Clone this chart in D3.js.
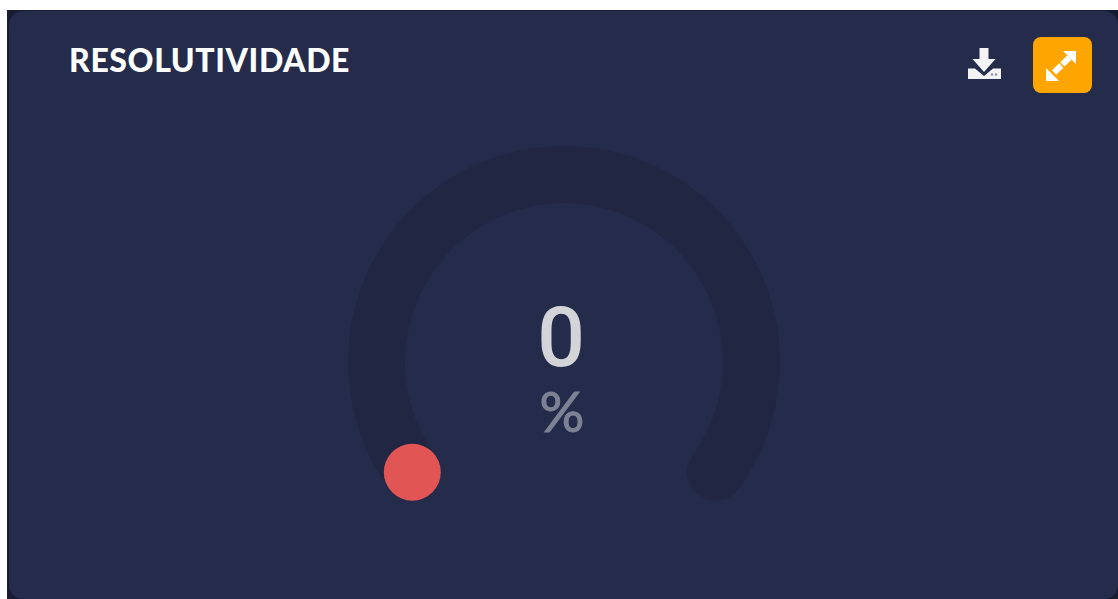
<!DOCTYPE html>
<html>
<head>
<meta charset="utf-8">
<script src="https://cdn.jsdelivr.net/npm/d3@7"></script>
<style>
    html, body { margin: 0; padding: 0; background: #fff; overflow: hidden; }
    svg { display: block; }
</style>
</head>
<body>
<div id="chart"></div>
<script>
const title = ["RESOLUTIVIDADE"];
const gaugeDomain = [0, 100];
const gaugeValue = [0];
const gaugeUnit = ["%"];

const width = 1118, height = 599;
const cx = 564, cy = 362;
const outerR = 216, innerR = 159;
const midR = (outerR + innerR) / 2;
const capR = (outerR - innerR) / 2;
const sweep = 126 * Math.PI / 180;

const svg = d3.select("#chart")
    .append("svg")
    .attr("width", width)
    .attr("height", height);

// Card, dark backing shows at the corners and the left edge
svg.append("rect")
    .attr("x", 7).attr("y", 10)
    .attr("width", width - 7).attr("height", height - 10)
    .attr("fill", "#171c33");
svg.append("rect")
    .attr("x", 9).attr("y", 11)
    .attr("width", width - 9).attr("height", height - 11)
    .attr("rx", 14)
    .attr("fill", "#242b4b");

svg.append("text")
    .attr("x", 69).attr("y", 72)
    .attr("font-family", "Lato")
    .attr("font-weight", 900)
    .attr("font-size", 32)
    .attr("letter-spacing", 0.6)
    .attr("fill", "#ffffff")
    .text(title[0]);

// Download icon
const download = svg.append("g").attr("fill", "#f2f3f5");
download.append("path")
    .attr("d", "M979.5 48H988.5V59H995.5L984 72L972.5 59H979.5Z");
download.append("path")
    .attr("d", "M968 68.5H975L984 76L993 68.5H1001V79H968Z");
download.selectAll("circle")
    .data([992, 996])
    .enter().append("circle")
    .attr("cx", d => d).attr("cy", 74.5).attr("r", 1.2)
    .attr("fill", "#8d92a6");

// Expand button
svg.append("rect")
    .attr("x", 1033).attr("y", 37)
    .attr("width", 59).attr("height", 56)
    .attr("rx", 8)
    .attr("fill", "#ffa500");
const expand = svg.append("g");
expand.append("path")
    .attr("fill", "#ffffff")
    .attr("d", "M1063 51H1076V64Z");
expand.append("path")
    .attr("fill", "#ffffff")
    .attr("d", "M1046 68L1059 81H1046Z");
expand.append("path")
    .attr("stroke", "#ffffff")
    .attr("stroke-width", 6)
    .attr("stroke-dasharray", "10 1.5 10")
    .attr("d", "M1069.5 57.5L1052 74.5");

// Gauge
const angle = d3.scaleLinear().domain(gaugeDomain).range([-sweep, sweep]);
const gauge = svg.append("g").attr("transform", `translate(${cx}, ${cy})`);

// d3.arc keeps rounded corners inside its angles, so widen by the cap
const capAngle = capR / midR;
const arc = d3.arc()
    .innerRadius(innerR)
    .outerRadius(outerR)
    .cornerRadius(capR);

gauge.append("path")
    .attr("d", arc({
        startAngle: angle(gaugeDomain[0]) - capAngle,
        endAngle: angle(gaugeDomain[1]) + capAngle
    }))
    .attr("fill", "#212743");

gauge.selectAll(".knob")
    .data(gaugeValue)
    .enter().append("circle")
    .attr("class", "knob")
    .attr("cx", d => midR * Math.sin(angle(d)))
    .attr("cy", d => -midR * Math.cos(angle(d)))
    .attr("r", capR)
    .attr("fill", "#e25555");

gauge.append("text")
    .attr("x", -3).attr("y", 4)
    .attr("text-anchor", "middle")
    .attr("font-family", "Roboto")
    .attr("font-weight", 500)
    .attr("font-size", 84)
    .attr("fill", "#d3d4d8")
    .text(gaugeValue[0]);

gauge.append("text")
    .attr("x", -2).attr("y", 70)
    .attr("text-anchor", "middle")
    .attr("font-family", "Lato")
    .attr("font-size", 56)
    .attr("stroke", "#7e8295")
    .attr("stroke-width", 1)
    .attr("fill", "#7e8295")
    .text(gaugeUnit[0]);
</script>
</body>
</html>
